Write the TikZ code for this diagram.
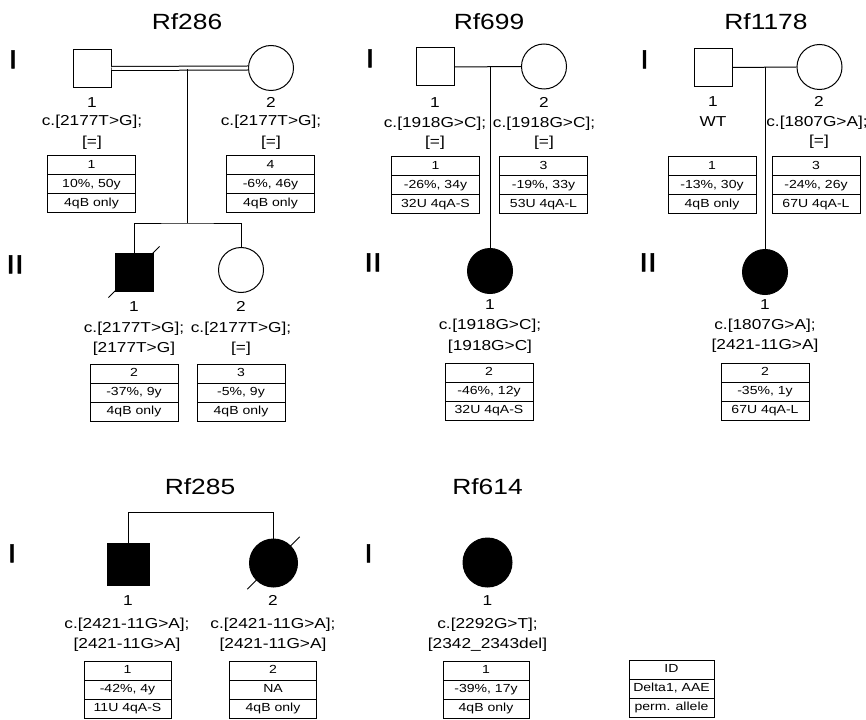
\documentclass[tikz,border=0pt]{standalone}
\usepackage{fontspec}
\setmainfont{Liberation Sans}[FakeStretch=1.2]
\newfontfamily\genfam{Liberation Sans}[FakeStretch=1.2, FakeBold=2]
\newcommand\labfont{\fontsize{14.4}{16}\selectfont}
\newcommand\ttlfont{\fontsize{22}{24}\selectfont}
\newcommand\genfont{\genfam\fontsize{26}{28}\selectfont}
\newcommand\cellfont{\fontsize{11.7}{13}\selectfont}
\newcommand\infotab[7]{%
  \node[cell, minimum width=#2pt] (#1-a) at (#3,#4+9.5) {#5};
  \node[cell, minimum width=#2pt] (#1-b) at (#3,#4+28.5) {#6};
  \node[cell, minimum width=#2pt] (#1-c) at (#3,#4+47.5) {#7};}
\begin{document}
\begin{tikzpicture}[x=1pt,y=-1pt,line width=1pt,
  lab/.style={inner sep=0pt, text height=10.3pt, text depth=0pt, font=\labfont},
  ttl/.style={inner sep=0pt, text height=16pt, text depth=0pt, font=\ttlfont},
  gen/.style={inner sep=0pt, text height=18.6pt, text depth=0pt, font=\genfont},
  cell/.style={draw, minimum height=19pt, inner sep=0pt, text height=8.4pt, text depth=2.4pt, font=\cellfont},
  sqr/.style={draw, rectangle, minimum size=38pt, inner sep=0pt},
  crc/.style={draw, circle, minimum size=45pt, inner sep=0pt},
  aff/.style={fill=black},
  slash/.style={shorten <=-8.5pt, shorten >=-8.5pt}]
\useasboundingbox (0,0) rectangle (866,719);

% ---------------- Rf286 ----------------
\node[ttl] (t286) at (187,22) {Rf286};
\node[gen] (g286a) at (13,59) {I};
\node[gen] (g286b) at (15,264) {II};
\node[sqr] (f286a) at (92,68.5) {};
\node[crc] (f286b) at (271,68) {};
\node[sqr, aff] (f286c) at (134,272) {};
\node[crc] (f286d) at (241,270) {};
\draw[double, double distance=3pt] (f286a.east) -- (f286b.west);
\coordinate (m286) at (187,69.5);
\coordinate (s286) at (187,223);
\draw (m286) -- (s286);
\draw (f286c.north) |- (s286) -| (f286d.north);
\draw[slash] (f286c.south west) -- (f286c.north east);
\node[lab] (f286a-n) at (92,102) {1};
\node[lab] (f286a-g) at (92,120) {c.[2177T>G];};
\node[lab] (f286a-h) at (92,141) {[=]};
\node[lab] (f286b-n) at (271,102) {2};
\node[lab] (f286b-g) at (271,120) {c.[2177T>G];};
\node[lab] (f286b-h) at (271,141) {[=]};
\node[lab] (f286c-n) at (134,306) {1};
\node[lab] (f286c-g) at (134,327) {c.[2177T>G];};
\node[lab] (f286c-h) at (134,347) {[2177T>G]};
\node[lab] (f286d-n) at (241,306) {2};
\node[lab] (f286d-g) at (241,327) {c.[2177T>G];};
\node[lab] (f286d-h) at (241,347) {[=]};
\infotab{f286a-t}{88}{91.5}{156}{1}{10\%, 50y}{4qB only}
\infotab{f286b-t}{88}{270.5}{156}{4}{-6\%, 46y}{4qB only}
\infotab{f286c-t}{88}{134}{364}{2}{-37\%, 9y}{4qB only}
\infotab{f286d-t}{88}{241}{364}{3}{-5\%, 9y}{4qB only}

% ---------------- Rf699 ----------------
\node[ttl] (t699) at (489,22) {Rf699};
\node[gen] (g699a) at (370,58) {I};
\node[gen] (g699b) at (373,262) {II};
\node[sqr] (f699a) at (435,67) {};
\node[crc] (f699b) at (544,66.5) {};
\node[crc, aff] (f699c) at (490,271) {};
\draw (f699a.east) -- (f699b.west);
\coordinate (m699) at (490,67);
\draw (m699) -- (f699c.north);
\node[lab] (f699a-n) at (435,102) {1};
\node[lab] (f699a-g) at (435,122) {c.[1918G>C];};
\node[lab] (f699a-h) at (435,141) {[=]};
\node[lab] (f699b-n) at (544,102) {2};
\node[lab] (f699b-g) at (544,122) {c.[1918G>C];};
\node[lab] (f699b-h) at (544,141) {[=]};
\node[lab] (f699c-n) at (490,304) {1};
\node[lab] (f699c-g) at (490,324) {c.[1918G>C];};
\node[lab] (f699c-h) at (490,345) {[1918G>C]};
\infotab{f699a-t}{88}{435.5}{157}{1}{-26\%, 34y}{32U 4qA-S}
\infotab{f699b-t}{88}{543.5}{157}{3}{-19\%, 33y}{53U 4qA-L}
\infotab{f699c-t}{88}{489}{363}{2}{-46\%, 12y}{32U 4qA-S}

% ---------------- Rf1178 ----------------
\node[ttl] (t1178) at (766,22) {Rf1178};
\node[gen] (g1178a) at (644.5,59) {I};
\node[gen] (g1178b) at (648,262) {II};
\node[sqr] (f1178a) at (713,67.5) {};
\node[crc] (f1178b) at (819.5,67) {};
\node[crc, aff] (f1178c) at (765,272) {};
\draw (f1178a.east) -- (f1178b.west);
\coordinate (m1178) at (765,67);
\draw (m1178) -- (f1178c.north);
\node[lab] (f1178a-n) at (713,101) {1};
\node[lab] (f1178a-g) at (713,121) {WT};
\node[lab] (f1178b-n) at (819,101) {2};
\node[lab] (f1178b-g) at (817,121) {c.[1807G>A];};
\node[lab] (f1178b-h) at (819,140) {[=]};
\node[lab] (f1178c-n) at (765,304) {1};
\node[lab] (f1178c-g) at (765,324) {c.[1807G>A];};
\node[lab] (f1178c-h) at (765,344) {[2421-11G>A]};
\infotab{f1178a-t}{88}{712}{157}{1}{-13\%, 30y}{4qB only}
\infotab{f1178b-t}{88}{816}{157}{3}{-24\%, 26y}{67U 4qA-L}
\infotab{f1178c-t}{88}{765}{363}{2}{-35\%, 1y}{67U 4qA-L}

% ---------------- Rf285 ----------------
\node[ttl] (t285) at (200,486) {Rf285};
\node[gen] (g285a) at (12,553) {I};
\node[sqr, aff, minimum size=42pt] (f285a) at (128,564) {};
\node[crc, aff, minimum size=48pt] (f285b) at (273.5,563) {};
\draw (f285a.north) -- ++(0,-30) -| (f285b.north);
\draw[shorten <=-12.5pt, shorten >=-12.5pt] (f285b.225) -- (f285b.45);
\node[lab] (f285a-n) at (128,600) {1};
\node[lab] (f285a-g) at (127,623.5) {c.[2421-11G>A];};
\node[lab] (f285a-h) at (127,643.5) {[2421-11G>A]};
\node[lab] (f285b-n) at (273,600) {2};
\node[lab] (f285b-g) at (273,623.5) {c.[2421-11G>A];};
\node[lab] (f285b-h) at (273,643.5) {[2421-11G>A]};
\infotab{f285a-t}{87}{127.5}{661}{1}{-42\%, 4y}{11U 4qA-S}
\infotab{f285b-t}{87}{273}{661}{2}{NA}{4qB only}

% ---------------- Rf614 ----------------
\node[ttl] (t614) at (487.5,486) {Rf614};
\node[gen] (g614a) at (368.5,553) {I};
\node[crc, aff, minimum size=49pt] (f614a) at (487.5,562.5) {};
\node[lab] (f614a-n) at (487.5,600) {1};
\node[lab] (f614a-g) at (487.5,623.5) {c.[2292G>T];};
\node[lab] (f614a-h) at (487.5,643.5) {[2342\_2343del]};
\infotab{f614a-t}{86}{486}{661}{1}{-39\%, 17y}{4qB only}

% ---------------- legend ----------------
\infotab{leg}{85}{671.5}{660}{ID}{Delta1, AAE}{perm. allele}
\end{tikzpicture}
\end{document}
